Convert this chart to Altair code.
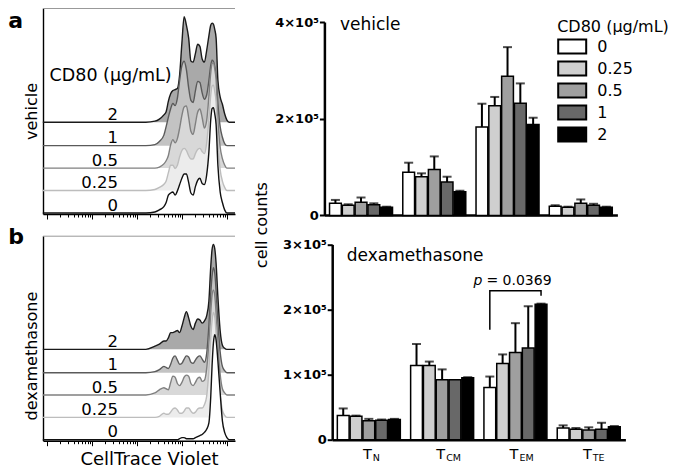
import math
import altair as alt
import pandas as pd

# ---------------------------------------------------------------- data
DOSES = ["0", "0.25", "0.5", "1", "2"]
SUBSETS = ["TN", "TCM", "TEM", "TTE"]
SUBSCRIPTS = ["N", "CM", "EM", "TE"]

VEH_MEAN = {
    "TN": [25000, 21000, 27000, 22000, 17000],
    "TCM": [89000, 80000, 95000, 69000, 49000],
    "TEM": [183000, 227000, 288000, 232000, 188000],
    "TTE": [19000, 17000, 25000, 21000, 17000],
}
VEH_ERR = {
    "TN": [7000, 2000, 10000, 3000, 1000],
    "TCM": [20000, 7000, 27000, 11000, 2000],
    "TEM": [48000, 18000, 60000, 41000, 14000],
    "TTE": [2000, 1000, 8000, 3000, 1000],
}
DEX_MEAN = {
    "TN": [37000, 36000, 29000, 30000, 31000],
    "TCM": [114000, 114000, 92000, 92000, 95000],
    "TEM": [80000, 117000, 134000, 141000, 208000],
    "TTE": [18000, 16000, 15000, 16000, 20000],
}
DEX_ERR = {
    "TN": [11000, 1000, 3000, 1000, 1000],
    "TCM": [33000, 6000, 16000, 0, 1000],
    "TEM": [17000, 14000, 45000, 64000, 1000],
    "TTE": [4000, 2000, 4000, 10000, 1000],
}
VEH_TICKS = [0, 200000, 400000]
DEX_TICKS = [0, 100000, 200000, 300000]

# p-value bracket (TEM, dose 0 vs 2) in cell counts
BRACKET_DOSE = ["0", "0", "2", "2"]
BRACKET_Y = [169000, 228700, 228700, 221300]
P_Y = 238000

# CellTrace Violet histograms: x in decades (log10 intensity), y in % of mode
HIST_X = [0.91, 3.2, 3.4, 3.5, 3.6, 3.65, 3.7, 3.75, 3.8, 3.85, 3.9, 3.95, 4.0,
          4.05, 4.1, 4.15, 4.2, 4.25, 4.3, 4.35, 4.4, 4.45, 4.5, 4.55, 4.6, 4.64,
          4.67, 4.7, 4.73, 4.76, 4.8, 4.85, 4.9, 4.95, 5.0, 5.05, 5.18]
VEH_HIST = {
    "0": [0, 0, 1, 3, 6, 10, 17, 19, 20, 17, 21, 27, 33, 37, 37, 29, 19, 17, 25, 31, 33,
          28, 27, 36, 58, 88, 99, 100, 94, 84, 45, 20, 10, 3, 0, 0, 0],
    "0.25": [0, 0, 1, 3, 6, 9, 17, 24, 24, 21, 24, 32, 38, 40, 38, 33, 30, 30, 35, 39, 40,
             37, 35, 45, 68, 90, 99, 100, 94, 84, 45, 20, 9, 3, 0, 0, 0],
    "0.5": [0, 0, 0, 1, 4, 7, 12, 22, 27, 24, 28, 38, 50, 58, 59, 48, 35, 32, 42, 53, 56,
            48, 38, 45, 68, 90, 99, 100, 94, 84, 45, 20, 9, 3, 0, 0, 0],
    "1": [0, 0, 1, 4, 10, 18, 27, 35, 40, 38, 45, 62, 76, 80, 72, 55, 43, 41, 52, 61, 60,
          50, 44, 48, 62, 76, 81, 80, 75, 66, 40, 18, 8, 2, 0, 0, 0],
    "2": [0, 0, 1, 3, 7, 10, 20, 27, 30, 31, 32, 45, 75, 100, 92, 80, 58, 57, 65, 74, 72,
          60, 57, 68, 82, 92, 94, 93, 88, 80, 40, 24, 17, 8, 2, 0, 0],
}
DEX_HIST = {
    "0": [0, 0, 0, 0, 0, 0, 0, 0, 0, 0, 0, 1, 2, 2, 1, 1, 1, 1, 2, 3, 4, 5, 7, 10, 16, 40,
          70, 92, 100, 95, 75, 45, 18, 7, 2, 0, 0],
    "0.25": [0, 0, 0, 1, 4, 3, 3, 5, 8, 9, 7, 4, 4, 6, 9, 9, 6, 4, 5, 8, 9, 9, 12, 20, 45,
             75, 92, 100, 96, 80, 50, 22, 7, 2, 0, 0, 0],
    "0.5": [0, 0, 2, 5, 7, 6, 5, 12, 18, 17, 11, 9, 12, 17, 19, 18, 11, 9, 12, 16, 17, 13,
            14, 25, 50, 78, 95, 100, 95, 78, 48, 20, 6, 2, 0, 0, 0],
    "1": [0, 0, 1, 3, 6, 5, 4, 8, 14, 16, 12, 8, 9, 13, 16, 15, 10, 9, 12, 15, 16, 13, 10,
          18, 45, 75, 92, 100, 95, 78, 48, 20, 6, 2, 0, 0, 0],
    "2": [0, 0, 3, 5, 8, 8, 11, 16, 16, 17, 18, 16, 22, 30, 36, 30, 22, 19, 25, 29, 28, 25,
          27, 32, 46, 78, 95, 100, 96, 82, 50, 18, 4, 1, 0, 0, 0],
}
MAJOR_DECADES = [1, 2, 3, 4, 5]
MINOR_MULT = [2, 3, 4, 5, 6, 7, 8, 9]

# ---------------------------------------------------------------- styling
FONT = "DejaVu Sans"
BAR_FILL = ["#ffffff", "#cfcfcf", "#9f9f9f", "#686868", "#000000"]
HIST_FILL = {"2": "#a9a9a9", "1": "#c3c3c3", "0.5": "#d8d8d8", "0.25": "#ececec", "0": "#ffffff"}
HIST_LINE = {"2": "#1a1a1a", "1": "#5a5a5a", "0.5": "#808080", "0.25": "#bdbdbd", "0": "#111111"}
HIST_OFFSET = {"0": 1, "0.25": 24, "0.5": 47, "1": 70, "2": 94}
HIST_SCALE = 1.08          # px per % of mode (reference units)
X_DOMAIN = [0.914, 5.18]
W_H, H_A, H_B = 192, 206, 205
W_V, H_V = 293, 207
W_D, H_D = 301, 204

hist_ticks = [d + math.log10(m) for d in MAJOR_DECADES for m in [1] + MINOR_MULT]
hist_ticks = [round(t, 4) for t in hist_ticks if X_DOMAIN[0] <= t <= X_DOMAIN[1]]


def one_row(**kw):
    return pd.DataFrame([kw])


def hist_panel(curves, H, ytitle, ytitle_y, xtitle, letter, letter_y, cd80):
    xaxis = alt.Axis(
        values=hist_ticks, labels=False, grid=False,
        tickSize={"condition": {"test": "abs(datum.value - round(datum.value)) < 0.001", "value": 5}, "value": 3},
        tickColor="black", tickWidth=1, domainColor="black", domainWidth=1.4,
        title=xtitle if xtitle else None, titleFont=FONT, titleFontSize=18,
        titleFontWeight="normal", titleColor="black", titlePadding=4, titleX=106,
    )
    yaxis_kw = dict(
        labels=False, ticks=False, grid=False, domainColor="black", domainWidth=1.4,
        title=ytitle, titleFont=FONT, titleFontSize=16, titleFontWeight="normal",
        titleColor="black", titlePadding=4,
    )
    if ytitle_y is not None:
        yaxis_kw["titleY"] = ytitle_y
    yaxis = alt.Axis(**yaxis_kw)
    X = alt.X("x:Q", scale=alt.Scale(domain=X_DOMAIN, nice=False, zero=False), axis=xaxis)
    Y = alt.Y("top:Q", scale=alt.Scale(domain=[0, 211], nice=False, zero=False), axis=yaxis)

    layers = [
        alt.Chart(one_row(k=0)).mark_rule(color="#999999", strokeWidth=1).encode(
            x=alt.value(0), x2=alt.value(W_H), y=alt.value(0.5))
    ]
    for dose in ["2", "1", "0.5", "0.25", "0"]:
        base = HIST_OFFSET[dose]
        df = pd.DataFrame({
            "x": HIST_X,
            "top": [base + h * HIST_SCALE for h in curves[dose]],
            "base": [base] * len(HIST_X),
        })
        layers.append(alt.Chart(df).mark_area(interpolate="monotone", color=HIST_FILL[dose], opacity=1)
                      .encode(x=X, y=Y, y2="base:Q"))
        layers.append(alt.Chart(df).mark_line(interpolate="monotone", color=HIST_LINE[dose], strokeWidth=1.4)
                      .encode(x=X, y=Y))
    lab = pd.DataFrame({
        "x": [2.58] * len(DOSES),
        "top": [HIST_OFFSET[d] + 2.5 for d in DOSES],
        "label": DOSES,
    })
    layers.append(alt.Chart(lab).mark_text(align="right", baseline="alphabetic", font=FONT,
                                           fontSize=16.5, color="black")
                  .encode(x=X, y=Y, text="label:N"))
    if cd80:
        layers.append(alt.Chart(one_row(x=1.06, top=141, label="CD80 (μg/mL)"))
                      .mark_text(align="left", baseline="middle", font=FONT, fontSize=17.5, color="black")
                      .encode(x=X, y=Y, text="label:N"))
    layers.append(alt.Chart(one_row(label=letter)).mark_text(
        align="left", baseline="top", font=FONT, fontSize=22, fontWeight="bold", color="black")
        .encode(x=alt.value(-34.8), y=alt.value(letter_y), text="label:N"))
    return alt.layer(*layers).properties(width=W_H, height=H)


def bar_df(mean, err):
    rows = []
    for s in SUBSETS:
        for i, d in enumerate(DOSES):
            rows.append({"subset": s, "dose": d, "mean": mean[s][i],
                         "upper": mean[s][i] + err[s][i], "err": err[s][i]})
    return pd.DataFrame(rows)


LABEL_EXPR = "datum.value == 0 ? '0' : format(datum.value / 100000, 'd') + '×10⁵'"


def bar_panel(mean, err, W, H, xr0, yr, ymax, ticks, yoffset, legend):
    X = alt.X("subset:N", sort=SUBSETS,
              scale=alt.Scale(domain=SUBSETS, paddingInner=0.14, paddingOuter=0.07, range=[xr0, W]),
              axis=alt.Axis(title=None, labels=False, ticks=False, domainColor="black", domainWidth=2.5))
    XO = alt.XOffset("dose:N", sort=DOSES, scale=alt.Scale(domain=DOSES, paddingInner=0.08))
    Y = alt.Y("mean:Q", scale=alt.Scale(domain=[0, ymax], range=yr, nice=False, zero=True),
              axis=alt.Axis(values=ticks, labelExpr=LABEL_EXPR, labelFont=FONT, labelFontSize=13,
                            labelFontWeight="bold", labelColor="black", labelPadding=1,
                            tickSize=5, tickWidth=2, tickColor="black", domainColor="black",
                            domainWidth=2.5, grid=False, title=None, offset=yoffset))
    df = bar_df(mean, err)
    dfe = df[df["err"] > 0]
    err_rule = alt.Chart(dfe).mark_rule(color="black", strokeWidth=2).encode(
        x=X, xOffset=XO, y=Y, y2="upper:Q")
    err_cap = alt.Chart(dfe).mark_tick(color="black", thickness=2, size=9).encode(
        x=X, xOffset=XO, y=alt.Y("upper:Q"))
    bars = alt.Chart(df).mark_bar(stroke="black", strokeWidth=1.5).encode(
        x=X, xOffset=XO, y=Y,
        fill=alt.Fill("dose:N", sort=DOSES, scale=alt.Scale(domain=DOSES, range=BAR_FILL), legend=legend))
    return X, XO, Y, [err_rule, err_cap, bars]


legend = alt.Legend(
    title="CD80 (μg/mL)", orient="none", legendX=232.8, legendY=10.5,
    symbolType="M-2,-1H2V1H-2Z", symbolSize=196, symbolOffset=7, symbolStrokeColor="black",
    symbolStrokeWidth=2, symbolOpacity=1, labelFont=FONT, labelFontSize=16, labelColor="black",
    titleFont=FONT, titleFontSize=16, titleFontWeight="normal", titleColor="black",
    labelOffset=17, rowPadding=0, titlePadding=4, padding=0,
)

# vehicle bars
_, _, _, vlayers = bar_panel(VEH_MEAN, VEH_ERR, W_V, H_V, 0, [207.4, 14], 400000, VEH_TICKS, 0, legend)
vlayers.append(alt.Chart(one_row(t="vehicle")).mark_text(
    align="left", baseline="alphabetic", font=FONT, fontSize=17, color="black")
    .encode(x=alt.value(15.5), y=alt.value(21.5), text="t:N"))
vehicle = alt.layer(*vlayers).properties(width=W_V, height=H_V)

# dexamethasone bars
Xd, XOd, Yd, dlayers = bar_panel(DEX_MEAN, DEX_ERR, W_D, H_D, 7.8, [H_D, 8.7], 300000, DEX_TICKS, -7.8, None)
br = pd.DataFrame({"subset": ["TEM"] * 4, "dose": BRACKET_DOSE, "mean": BRACKET_Y, "ord": [0, 1, 2, 3]})
dlayers.append(alt.Chart(br).mark_line(color="black", strokeWidth=1.5).encode(
    x=Xd, xOffset=XOd, y=Yd, order="ord:Q"))
pdf = one_row(subset="TEM", dose="0.5", mean=P_Y, p="p", rest="= 0.0369")
dlayers.append(alt.Chart(pdf).mark_text(align="right", baseline="alphabetic", font=FONT, fontSize=14,
                                        fontStyle="italic", color="black", dx=-33)
               .encode(x=Xd, xOffset=XOd, y=Yd, text="p:N"))
dlayers.append(alt.Chart(pdf).mark_text(align="left", baseline="alphabetic", font=FONT, fontSize=14,
                                        color="black", dx=-29)
               .encode(x=Xd, xOffset=XOd, y=Yd, text="rest:N"))
tl = pd.DataFrame({"subset": SUBSETS, "T": ["T"] * 4, "sub": SUBSCRIPTS})
dlayers.append(alt.Chart(tl).mark_text(align="right", baseline="top", font=FONT, fontSize=14.5,
                                       color="black", dx=3)
               .encode(x=Xd, y=alt.value(212.3), text="T:N"))
dlayers.append(alt.Chart(tl).mark_text(align="left", baseline="top", font=FONT, fontSize=9.5,
                                       color="black", dx=4)
               .encode(x=Xd, y=alt.value(217.7), text="sub:N"))
dlayers.append(alt.Chart(one_row(t="dexamethasone")).mark_text(
    align="left", baseline="alphabetic", font=FONT, fontSize=17, color="black")
    .encode(x=alt.value(22.3), y=alt.value(25.2), text="t:N"))
dlayers.append(alt.Chart(one_row(t="cell counts")).mark_text(
    align="center", baseline="middle", font=FONT, fontSize=16, color="black", angle=270)
    .encode(x=alt.value(-62.8), y=alt.value(-10.6), text="t:N"))
dex = alt.layer(*dlayers).properties(width=W_D, height=H_D)

histA = hist_panel(VEH_HIST, H_A, "vehicle", None, None, "a", 2.7, True)
histB = hist_panel(DEX_HIST, H_B, "dexamethasone", 119.9, "CellTrace Violet", "b", -8.4, False)

chart = alt.concat(
    histA, vehicle, histB, dex, columns=2,
    spacing={"row": 20.7, "column": 89.4}, bounds="flush", align="each",
).resolve_scale(fill="independent").resolve_legend(fill="independent").properties(
    padding=0
).configure(font=FONT).configure_view(stroke=None)

chart.save("out.html", embed_options={"renderer": "svg", "actions": False})
